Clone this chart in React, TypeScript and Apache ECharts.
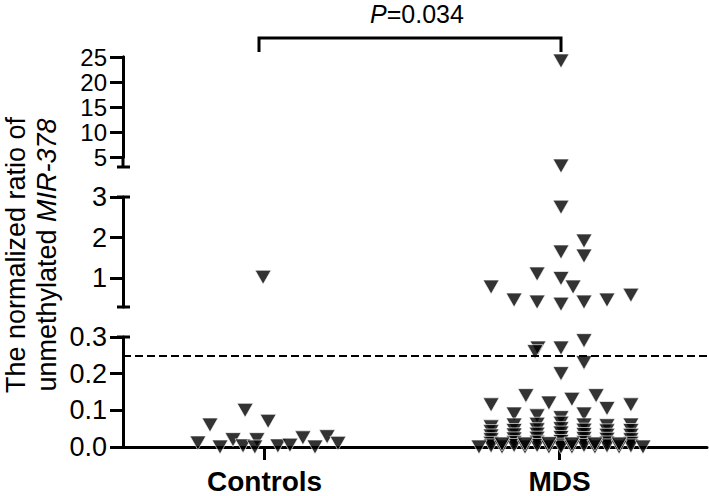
import React, { useEffect, useRef } from "react";
import * as echarts from "echarts";

// ---- data ----
const CATEGORIES = ["Controls", "MDS"];
const TOP_TICKS = [5, 10, 15, 20, 25];
const MID_TICKS = [1, 2, 3];
const LOW_TICKS = [0, 0.1, 0.2, 0.3];
const THRESHOLD = 0.25;
const P_TEXT = "0.034";

// x = jittered category position (1 = Controls), y = ratio
const controlsX = [0.774, 0.815, 0.849, 0.893, 0.927, 0.934, 0.974, 0.967, 1.012, 1.045, 1.086, 1.13, 1.171, 1.212, 1.249, 0.995];
const controlsY = [0.011, 0.06, 0.0, 0.02, 0.003, 0.1, 0.02, 0.0, 0.07, 0.003, 0.005, 0.025, 0.0, 0.028, 0.01, 1.03];

// x = jittered category position (2 = MDS)
const mdsX = [
  2.005, 2.005, 2.005, 2.083, 2.005, 2.083, 1.924, 2.005, 2.046, 1.768, 1.846, 1.924, 2.005, 2.083, 2.161, 2.242,
  1.927, 1.917, 2.005, 2.083, 2.083, 2.005,
  1.768, 1.886, 1.964, 2.042, 2.124, 2.161, 2.242,
  1.846, 1.924, 2.005, 2.083,
  1.768, 1.768, 1.768, 1.768, 1.768, 1.768,
  1.846, 1.846, 1.846, 1.846, 1.846, 1.846,
  1.924, 1.924, 1.924, 1.924, 1.924, 1.924,
  2.005, 2.005, 2.005, 2.005, 2.005, 2.005, 2.005,
  2.083, 2.083, 2.083, 2.083, 2.083, 2.083,
  2.161, 2.161, 2.161, 2.161, 2.161, 2.161,
  2.242, 2.242, 2.242, 2.242, 2.242, 2.242,
  1.727, 1.805, 1.805, 1.883, 1.883, 1.964, 1.964, 2.042, 2.042, 2.12, 2.12, 2.202, 2.202, 2.283,
];
const mdsY = [
  24.2, 3.2, 2.75, 1.92, 1.65, 1.55, 1.11, 1.0, 0.79, 0.79, 0.47, 0.42, 0.37, 0.42, 0.47, 0.59,
  0.27, 0.26, 0.27, 0.29, 0.23, 0.2,
  0.115, 0.14, 0.12, 0.13, 0.14, 0.105, 0.115,
  0.09, 0.085, 0.08, 0.09,
  0.055, 0.042, 0.03, 0.02, 0.01, 0.003,
  0.06, 0.045, 0.033, 0.022, 0.012, 0.004,
  0.062, 0.047, 0.035, 0.024, 0.013, 0.004,
  0.065, 0.05, 0.038, 0.026, 0.015, 0.005, 0.0,
  0.06, 0.046, 0.034, 0.023, 0.012, 0.004,
  0.058, 0.044, 0.032, 0.021, 0.011, 0.003,
  0.06, 0.045, 0.032, 0.02, 0.01, 0.003,
  0.0, 0.0, 0.008, 0.0, 0.008, 0.0, 0.009, 0.0, 0.008, 0.0, 0.008, 0.0, 0.008, 0.0,
];

// ---- layout ----
const FONT = 'Arial, "Liberation Sans", Helvetica, sans-serif';
const LEFT = 123;
const RIGHT = 2;
// top segment: axis line runs down to value 3 (extended by a graphic line), ticks 5..25
const SEGMENTS = [
  { top: 57, height: 100, min: 5, max: 25, ticks: TOP_TICKS.filter((_, k) => k % 2 === 0), extendTo: 167, fs: 24 },
  { top: 197, height: 110, min: 0.3, max: 3, ticks: MID_TICKS, extendTo: 0, fs: 27 },
  { top: 337, height: 110, min: 0, max: 0.3, ticks: LOW_TICKS, extendTo: 0, fs: 27 },
];
const TOP_TICKS_B = TOP_TICKS.filter((_, k) => k % 2 === 1);

function segOf(v: number) {
  if (v >= 3) return 0;
  if (v >= 0.3) return 1;
  return 2;
}

function yAxisDef(gridIndex: number, min: number, max: number, ticks: number[], fs: number, fmt: (v: number) => string) {
  return {
    type: "value",
    gridIndex,
    min,
    max,
    position: "left",
    splitLine: { show: false },
    axisLine: { show: true, onZero: false, lineStyle: { color: "#000", width: 3 } },
    axisTick: {
      show: true,
      customValues: ticks,
      length: 13,
      lineStyle: { color: "#000", width: 3 },
    },
    axisLabel: {
      show: true,
      customValues: ticks,
      margin: 16,
      hideOverlap: false,
      color: "#000",
      fontFamily: FONT,
      fontSize: fs,
      lineHeight: Math.min(fs, 22),
      formatter: fmt,
    },
  };
}

export default function App() {
  const ref = useRef<HTMLDivElement>(null);
  useEffect(() => {
    if (!ref.current) return;
    const chart = echarts.init(ref.current, null, { renderer: "svg" });

    const grids = SEGMENTS.map((s) => ({
      left: LEFT,
      right: RIGHT,
      top: s.top,
      height: s.height,
      outerBoundsMode: "none",
    }));

    const xAxes = SEGMENTS.map((s, i) => ({
      type: "value",
      gridIndex: i,
      min: 0.52,
      max: 2.5,
      show: i === 2,
      splitLine: { show: false },
      axisLine: { show: i === 2, onZero: false, lineStyle: { color: "#000", width: 3 } },
      axisTick: {
        show: i === 2,
        customValues: [1, 2],
        length: 13,
        inside: false,
        lineStyle: { color: "#000", width: 3 },
      },
      axisLabel: {
        show: i === 2,
        customValues: [1, 2],
        margin: 20,
        hideOverlap: false,
        formatter: (v: number) => CATEGORIES[Math.round(v) - 1] ?? "",
        color: "#000",
        fontFamily: FONT,
        fontSize: 28,
        fontWeight: "bold",
      },
    }));

    const intFmt = (v: number) => String(Math.round(v));
    const yAxes: any[] = SEGMENTS.map((s, i) =>
      yAxisDef(i, s.min, s.max, s.ticks, s.fs, i === 2 ? (v: number) => v.toFixed(1) : intFmt)
    );
    // second axis for the top segment carrying the in-between ticks (10, 20)
    yAxes.push(yAxisDef(0, SEGMENTS[0].min, SEGMENTS[0].max, TOP_TICKS_B, SEGMENTS[0].fs, intFmt));

    const sym = {
      type: "scatter",
      symbol: "triangle",
      symbolRotate: 180,
      symbolSize: [16, 14],
      clip: false,
      itemStyle: { color: "#000", borderColor: "#fff", borderWidth: 0.8 },
    };

    const series: any[] = [];
    SEGMENTS.forEach((s, i) => {
      const cData = controlsX.map((x, k) => [x, controlsY[k]]).filter((d) => segOf(d[1]) === i);
      const mData = mdsX.map((x, k) => [x, mdsY[k]]).filter((d) => segOf(d[1]) === i);
      series.push({ ...sym, name: CATEGORIES[0], xAxisIndex: i, yAxisIndex: i, data: cData });
      const m: any = { ...sym, name: CATEGORIES[1], xAxisIndex: i, yAxisIndex: i, data: mData };
      if (i === 2) {
        m.markLine = {
          silent: true,
          symbol: "none",
          label: { show: false },
          lineStyle: { color: "#000", type: [8, 4], width: 1.8 },
          data: [{ yAxis: THRESHOLD }],
        };
      }
      series.push(m);
    });

    // axis extension of top segment down to value 3, and break caps
    const deco: any[] = [
      {
        type: "line",
        shape: { x1: LEFT, y1: SEGMENTS[0].top + SEGMENTS[0].height - 1, x2: LEFT, y2: SEGMENTS[0].extendTo },
        style: { stroke: "#000", lineWidth: 3 },
      },
    ];
    [SEGMENTS[0].extendTo, SEGMENTS[1].top, SEGMENTS[1].top + SEGMENTS[1].height, SEGMENTS[2].top].forEach((y) => {
      deco.push({
        type: "line",
        shape: { x1: LEFT - 6, y1: y, x2: LEFT + 7, y2: y },
        style: { stroke: "#000", lineWidth: 3 },
      });
    });

    chart.setOption({
      animation: false,
      backgroundColor: "#fff",
      grid: grids,
      xAxis: xAxes,
      yAxis: yAxes,
      series,
      graphic: [
        ...deco,
        {
          type: "polyline",
          shape: { points: [[259, 52], [259, 38], [561, 38], [561, 52]] },
          style: { stroke: "#000", lineWidth: 3, fill: null },
        },
        {
          type: "text",
          x: 417,
          y: 14,
          style: {
            text: "{i|P}{n|=" + P_TEXT + "}",
            align: "center",
            verticalAlign: "middle",
            textAlign: "center",
            textVerticalAlign: "middle",
            rich: {
              i: { fontFamily: FONT, fontSize: 25, lineHeight: 22, fontStyle: "italic", fill: "#000", color: "#000" },
              n: { fontFamily: FONT, fontSize: 25, lineHeight: 22, fill: "#000", color: "#000" },
            },
          },
        },
        {
          type: "text",
          x: 16,
          y: 255,
          rotation: Math.PI / 2,
          style: {
            text: "The normalized ratio of",
            fontFamily: FONT,
            fontSize: 27,
            fill: "#000",
            align: "center",
            verticalAlign: "middle",
            textAlign: "center",
            textVerticalAlign: "middle",
          },
        },
        {
          type: "text",
          x: 47,
          y: 255,
          rotation: Math.PI / 2,
          style: {
            text: "{n|unmethylated }{i|MIR-378}",
            align: "center",
            verticalAlign: "middle",
            textAlign: "center",
            textVerticalAlign: "middle",
            rich: {
              n: { fontFamily: FONT, fontSize: 27, fill: "#000", color: "#000" },
              i: { fontFamily: FONT, fontSize: 27, fontStyle: "italic", fill: "#000", color: "#000" },
            },
          },
        },
      ],
    });
    return () => chart.dispose();
  }, []);
  return (
    <div
      ref={ref}
      style={{ position: "fixed", left: 0, top: 0, width: 709, height: 496, background: "#fff" }}
    />
  );
}
